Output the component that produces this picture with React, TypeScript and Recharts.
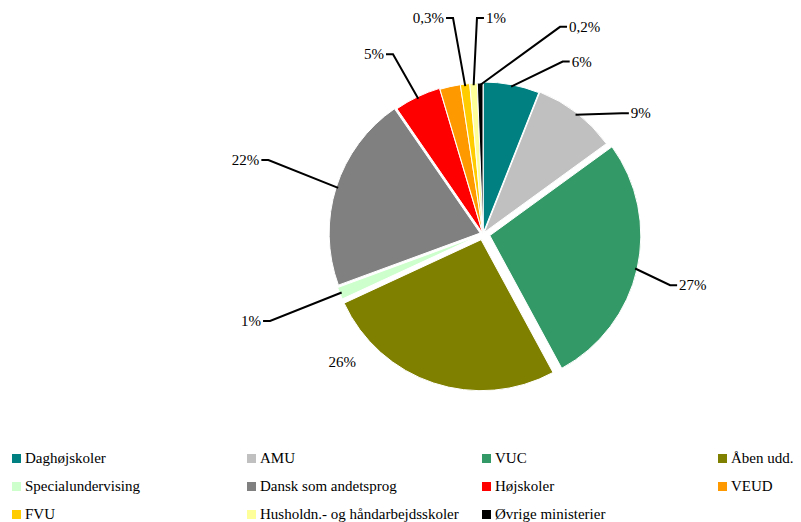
import React from "react";
import { PieChart, Pie, Cell, Legend, Sector } from "recharts";

const CATEGORIES = [
  "Daghøjskoler",
  "AMU",
  "VUC",
  "Åben udd.",
  "Specialundervising",
  "Dansk som andetsprog",
  "Højskoler",
  "VEUD",
  "FVU",
  "Husholdn.- og håndarbejdsskoler",
  "Øvrige ministerier",
];
const VALUES = [6, 9, 27.1, 26, 1.3, 21, 5, 2.2, 1, 0.8, 0.6];
const LABELS = ["6%", "9%", "27%", "26%", "1%", "22%", "5%", "", "0,3%", "1%", "0,2%"];
const COLORS = [
  "#008080",
  "#C0C0C0",
  "#339966",
  "#808000",
  "#CCFFCC",
  "#808080",
  "#FF0000",
  "#FF9900",
  "#FFCC00",
  "#FFFF99",
  "#000000",
];

// layout only: how far each slice is pulled out, and where its label sits
const EXPLODE = [1, 2, 7, 6, 4, 3, 1, 0, 0, 0, 0];
const LABEL_POS: Array<{ angle: number; r: number; side: "left" | "right" | "center" } | null> = [
  { angle: 24.8, r: 190, side: "right" },
  { angle: 49, r: 184, side: "right" },
  { angle: 105.3, r: 194, side: "right" },
  { angle: 227.8, r: 190, side: "center" },
  { angle: 247.8, r: 230, side: "left" },
  { angle: 289, r: 227, side: "left" },
  { angle: 333.4, r: 201, side: "left" },
  null,
  { angle: 352.1, r: 218, side: "left" },
  { angle: 358.4, r: 216, side: "right" },
  { angle: 20.4, r: 221, side: "right" },
];

const data = CATEGORIES.map((name, i) => ({ name, value: VALUES[i] }));

const FONT = '"Liberation Serif", "Times New Roman", serif';
const RAD = Math.PI / 180;

const ExplodedSector = (props: any) => {
  const idx = CATEGORIES.indexOf(props.payload?.name ?? props.name);
  const d = EXPLODE[idx] ?? 0;
  const dx = d * Math.cos(-props.midAngle * RAD);
  const dy = d * Math.sin(-props.midAngle * RAD);
  return (
    <Sector
      cx={props.cx + dx}
      cy={props.cy + dy}
      innerRadius={props.innerRadius}
      outerRadius={props.outerRadius}
      startAngle={props.startAngle}
      endAngle={props.endAngle}
      fill={props.fill}
      stroke="#fff"
      strokeWidth={1}
    />
  );
};

const renderLabel = (props: any) => {
  const { cx, cy, midAngle, outerRadius, index } = props;
  const pos = LABEL_POS[index];
  if (!pos) return null;
  const ex = cx + pos.r * Math.sin(pos.angle * RAD);
  const ey = cy - pos.r * Math.cos(pos.angle * RAD);
  if (pos.side === "center") {
    return (
      <text x={ex} y={ey} textAnchor="middle" dominantBaseline="central" fontFamily={FONT} fontSize={15} fill="#000">
        {LABELS[index]}
      </text>
    );
  }
  const d = EXPLODE[index];
  const sr = outerRadius + d - 2;
  const sx = cx + sr * Math.cos(-midAngle * RAD);
  const sy = cy + sr * Math.sin(-midAngle * RAD);
  const dir = pos.side === "right" ? 1 : -1;
  return (
    <g>
      <polyline
        points={`${sx},${sy} ${ex},${ey} ${ex + dir * 7},${ey}`}
        fill="none"
        stroke="#000"
        strokeWidth={2}
      />
      <text
        x={ex + dir * 9}
        y={ey}
        textAnchor={dir > 0 ? "start" : "end"}
        dominantBaseline="central"
        fontFamily={FONT}
        fontSize={15}
        fill="#000"
      >
        {LABELS[index]}
      </text>
    </g>
  );
};

const LegendGrid = () => (
  <div
    style={{
      display: "grid",
      gridTemplateColumns: "235px 235px 236px 95px",
      rowGap: 0,
      fontFamily: FONT,
      fontSize: 15,
      color: "#000",
    }}
  >
    {CATEGORIES.map((name, i) => (
      <div key={name} style={{ display: "flex", alignItems: "center", height: 28, whiteSpace: "nowrap" }}>
        <span style={{ width: 9, height: 9, background: COLORS[i], marginLeft: 12, marginRight: 4, flexShrink: 0 }} />
        <span>{name}</span>
      </div>
    ))}
  </div>
);

export default function App() {
  return (
    <div style={{ position: "absolute", left: 0, top: 0, width: 801, height: 522, background: "#fff" }}>
      <PieChart width={801} height={522} margin={{ top: 0, right: 0, bottom: 0, left: 0 }}>
        <Pie
          data={data}
          dataKey="value"
          nameKey="name"
          cx={483}
          cy={234}
          outerRadius={151}
          startAngle={90}
          endAngle={-270}
          labelLine={false}
          label={renderLabel}
          shape={ExplodedSector}
          isAnimationActive={false}
        >
          {data.map((entry, i) => (
            <Cell key={entry.name} fill={COLORS[i]} />
          ))}
        </Pie>
        <Legend content={<LegendGrid />} wrapperStyle={{ left: 0, top: 444, width: 801 }} />
      </PieChart>
    </div>
  );
}
